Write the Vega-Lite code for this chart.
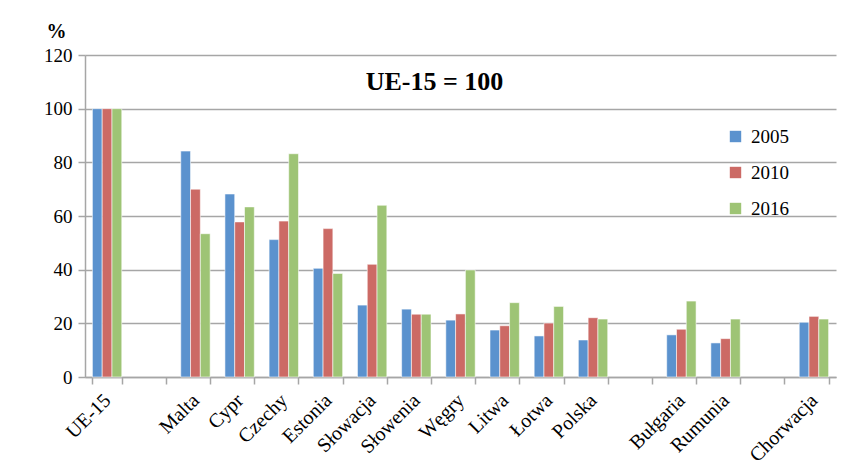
{
  "$schema": "https://vega.github.io/schema/vega-lite/v6.json",
  "width": 751,
  "height": 322,
  "autosize": {"type": "none"},
  "padding": {"left": 85, "top": 55, "right": 14, "bottom": 94},
  "background": "white",
  "config": {
    "font": "Liberation Serif",
    "view": {"stroke": null},
    "axis": {"labelFont": "Liberation Serif", "titleFont": "Liberation Serif", "labelColor": "#000000", "titleColor": "#000000"}
  },
  "layer": [
    {
      "data": {
        "values": [
          {"country": "UE-15", "year": "2005", "value": 100},
          {"country": "UE-15", "year": "2010", "value": 100},
          {"country": "UE-15", "year": "2016", "value": 100},
          {"country": "Malta", "year": "2005", "value": 84.2},
          {"country": "Malta", "year": "2010", "value": 70.0},
          {"country": "Malta", "year": "2016", "value": 53.4},
          {"country": "Cypr", "year": "2005", "value": 68.2},
          {"country": "Cypr", "year": "2010", "value": 57.8},
          {"country": "Cypr", "year": "2016", "value": 63.4},
          {"country": "Czechy", "year": "2005", "value": 51.2},
          {"country": "Czechy", "year": "2010", "value": 58.1},
          {"country": "Czechy", "year": "2016", "value": 83.2},
          {"country": "Estonia", "year": "2005", "value": 40.5},
          {"country": "Estonia", "year": "2010", "value": 55.3},
          {"country": "Estonia", "year": "2016", "value": 38.6},
          {"country": "Słowacja", "year": "2005", "value": 26.8},
          {"country": "Słowacja", "year": "2010", "value": 42.0},
          {"country": "Słowacja", "year": "2016", "value": 64.0},
          {"country": "Słowenia", "year": "2005", "value": 25.3},
          {"country": "Słowenia", "year": "2010", "value": 23.4},
          {"country": "Słowenia", "year": "2016", "value": 23.4},
          {"country": "Węgry", "year": "2005", "value": 21.2},
          {"country": "Węgry", "year": "2010", "value": 23.5},
          {"country": "Węgry", "year": "2016", "value": 39.9},
          {"country": "Litwa", "year": "2005", "value": 17.5},
          {"country": "Litwa", "year": "2010", "value": 19.1},
          {"country": "Litwa", "year": "2016", "value": 27.7},
          {"country": "Łotwa", "year": "2005", "value": 15.3},
          {"country": "Łotwa", "year": "2010", "value": 20.1},
          {"country": "Łotwa", "year": "2016", "value": 26.3},
          {"country": "Polska", "year": "2005", "value": 13.8},
          {"country": "Polska", "year": "2010", "value": 22.1},
          {"country": "Polska", "year": "2016", "value": 21.6},
          {"country": "Bułgaria", "year": "2005", "value": 15.7},
          {"country": "Bułgaria", "year": "2010", "value": 17.8},
          {"country": "Bułgaria", "year": "2016", "value": 28.3},
          {"country": "Rumunia", "year": "2005", "value": 12.7},
          {"country": "Rumunia", "year": "2010", "value": 14.3},
          {"country": "Rumunia", "year": "2016", "value": 21.6},
          {"country": "Chorwacja", "year": "2005", "value": 20.4},
          {"country": "Chorwacja", "year": "2010", "value": 22.6},
          {"country": "Chorwacja", "year": "2016", "value": 21.6}
        ]
      },
      "mark": {"type": "bar", "stroke": "white", "strokeWidth": 0.8, "strokeOpacity": 0.7},
      "encoding": {
        "x": {
          "field": "country",
          "type": "nominal",
          "sort": null,
          "scale": {
            "domain": ["UE-15", "_1", "Malta", "Cypr", "Czechy", "Estonia", "Słowacja", "Słowenia", "Węgry", "Litwa", "Łotwa", "Polska", "_2", "Bułgaria", "Rumunia", "_3", "Chorwacja"],
            "paddingInner": 0.335,
            "paddingOuter": 0.1675
          },
          "axis": {
            "title": null,
            "labelExpr": "test(/^_/, datum.label) ? '' : datum.label",
            "labelAngle": -45,
            "labelAlign": "right",
            "labelBaseline": "middle",
            "labelFontSize": 20,
            "labelPadding": 13,
            "tickBand": "extent",
            "ticks": true,
            "tickSize": 7,
            "tickColor": "#A6A6A6",
            "tickWidth": 1.5,
            "domainColor": "#A6A6A6",
            "domainWidth": 1.5,
            "grid": false
          }
        },
        "xOffset": {"field": "year", "type": "nominal", "scale": {"paddingInner": 0, "paddingOuter": 0}},
        "y": {
          "field": "value",
          "type": "quantitative",
          "scale": {"domain": [0, 120], "nice": false},
          "axis": {
            "title": "%",
            "titleAngle": 0,
            "titleFontSize": 20,
            "titleFontWeight": "bold",
            "titleX": -29,
            "titleY": -18,
            "titleAlign": "center",
            "titleBaseline": "alphabetic",
            "values": [0, 20, 40, 60, 80, 100, 120],
            "labelFontSize": 19,
            "labelPadding": 6,
            "tickSize": 7,
            "tickColor": "#A6A6A6",
            "tickWidth": 1.5,
            "domainColor": "#A6A6A6",
            "domainWidth": 1.5,
            "gridColor": "#A6A6A6",
            "gridWidth": 1.5
          }
        },
        "color": {
          "field": "year",
          "type": "nominal",
          "scale": {"domain": ["2005", "2010", "2016"], "range": ["#5B92CE", "#CC6A65", "#9EC475"]},
          "legend": {
            "title": null,
            "orient": "none",
            "legendX": 641,
            "legendY": 72,
            "symbolType": "square",
            "symbolSize": 130,
            "symbolStrokeWidth": 0,
            "labelFontSize": 19,
            "labelFont": "Liberation Serif",
            "labelOffset": 6,
            "rowPadding": 16
          }
        }
      }
    },
    {
      "data": {"values": [{}]},
      "mark": {"type": "text", "font": "Liberation Serif", "fontWeight": "bold", "fontSize": 26, "align": "center", "baseline": "middle", "dx": -26},
      "encoding": {
        "x": {"datum": "Węgry"},
        "y": {"datum": 110},
        "text": {"value": "UE-15 = 100"}
      }
    }
  ]
}
